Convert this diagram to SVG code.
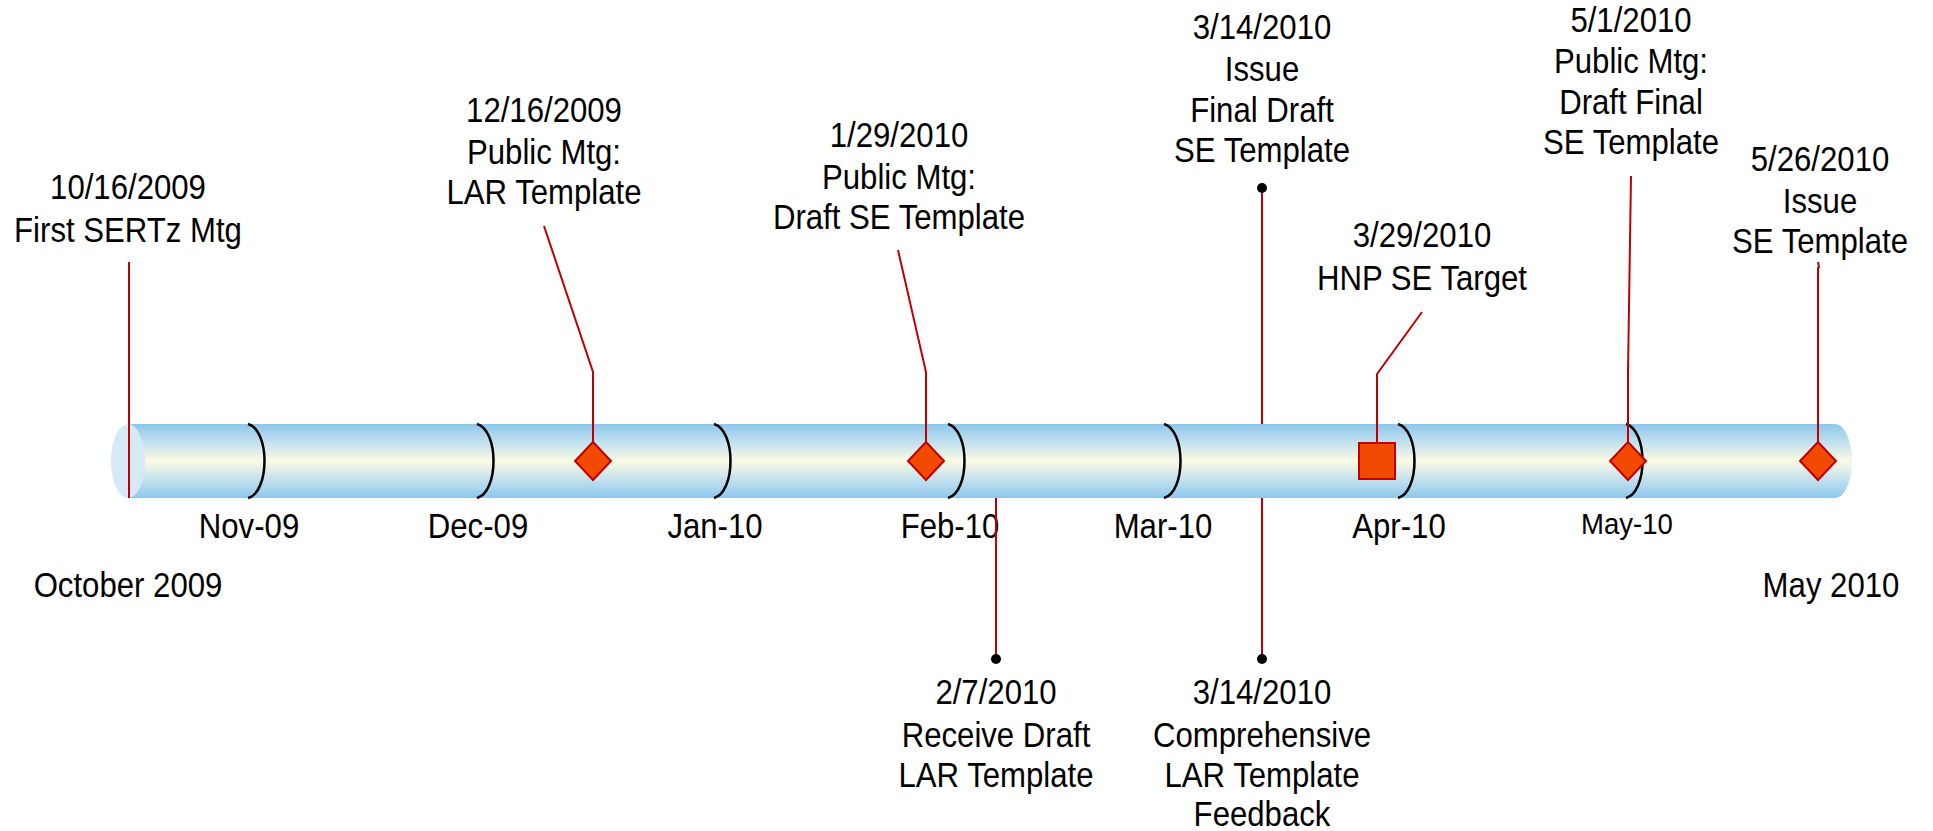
<svg xmlns="http://www.w3.org/2000/svg" width="1933" height="831" viewBox="0 0 1933 831">
<style>
.t{font-family:"Liberation Sans",Arial,sans-serif;font-size:35px;text-anchor:middle;fill:#000}
.ln{stroke:#C00000;stroke-width:2;fill:none}
.dia{fill:#F24A00;stroke:#C00000;stroke-width:2}
.br{stroke:#000;stroke-width:2.5;fill:none}
.dot{fill:#000}
</style>
<defs>
<linearGradient id="tg" x1="0" y1="0" x2="0" y2="1">
<stop offset="0" stop-color="#8DC7EB"/>
<stop offset="0.25" stop-color="#C3E1EE"/>
<stop offset="0.5" stop-color="#FBFAE4"/>
<stop offset="0.75" stop-color="#C3E1EE"/>
<stop offset="1" stop-color="#8DC7EB"/>
</linearGradient>
</defs>
<rect width="1933" height="831" fill="#fff"/>
<g id="timeline">
<path d="M128,424 H1835 A17,37 0 0 1 1835,498 H128 Z" fill="url(#tg)"/>
<ellipse cx="128" cy="461" rx="17" ry="37" fill="#D6E9F6"/>
<path class="br" d="M248,424 C270,430 270,492 248,498"/>
<path class="br" d="M477,424 C499,430 499,492 477,498"/>
<path class="br" d="M714,424 C736,430 736,492 714,498"/>
<path class="br" d="M948,424 C970,430 970,492 948,498"/>
<path class="br" d="M1164,424 C1186,430 1186,492 1164,498"/>
<path class="br" d="M1398,424 C1420,430 1420,492 1398,498"/>
<path class="br" d="M1626,424 C1648,430 1648,492 1626,498"/>
<text class="t" transform="translate(249,0) scale(0.89,1)" y="538">Nov-09</text>
<text class="t" transform="translate(478,0) scale(0.89,1)" y="538">Dec-09</text>
<text class="t" transform="translate(715,0) scale(0.89,1)" y="538">Jan-10</text>
<text class="t" transform="translate(950,0) scale(0.89,1)" y="538">Feb-10</text>
<text class="t" transform="translate(1163,0) scale(0.89,1)" y="538">Mar-10</text>
<text class="t" transform="translate(1399,0) scale(0.89,1)" y="538">Apr-10</text>
<text class="t" style="font-size:29px" transform="translate(1627,0) scale(0.95,1)" y="534">May-10</text>
<text class="t" transform="translate(128,0) scale(0.89,1)" y="597">October 2009</text>
<text class="t" transform="translate(1831,0) scale(0.89,1)" y="597">May 2010</text>
</g>
<g id="connectors">
<polyline class="ln" points="129,262 129,498"/>
<polyline class="ln" points="544,226 593,372 593,442"/>
<polyline class="ln" points="898,250 926,372 926,442"/>
<polyline class="ln" points="996,498 996,659"/>
<polyline class="ln" points="1262,188 1262,424"/>
<polyline class="ln" points="1262,498 1262,659"/>
<polyline class="ln" points="1422,312 1377,374 1377,443"/>
<polyline class="ln" points="1631,176 1628,372 1628,442"/>
<polyline class="ln" points="1818,262 1819,267 1818,268 1818,442"/>
</g>
<g id="n-oct16">
<text class="t" transform="translate(128,0) scale(0.89,1)"><tspan x="0" y="199">10/16/2009</tspan><tspan x="0" y="242">First SERTz Mtg</tspan></text>
</g>
<g id="n-dec16">
<text class="t" transform="translate(544,0) scale(0.89,1)"><tspan x="0" y="122">12/16/2009</tspan><tspan x="0" y="164">Public Mtg:</tspan><tspan x="0" y="204">LAR Template</tspan></text>
<path class="dia" d="M593,442 L611,461 L593,480 L575,461 Z"/>
</g>
<g id="n-jan29">
<text class="t" transform="translate(899,0) scale(0.89,1)"><tspan x="0" y="147">1/29/2010</tspan><tspan x="0" y="189">Public Mtg:</tspan><tspan x="0" y="229">Draft SE Template</tspan></text>
<path class="dia" d="M926,442 L944,461 L926,480 L908,461 Z"/>
</g>
<g id="n-feb7">
<circle class="dot" cx="996" cy="659" r="5"/>
<text class="t" transform="translate(996,0) scale(0.89,1)"><tspan x="0" y="704">2/7/2010</tspan><tspan x="0" y="747">Receive Draft</tspan><tspan x="0" y="787">LAR Template</tspan></text>
</g>
<g id="n-mar14-issue">
<text class="t" transform="translate(1262,0) scale(0.89,1)"><tspan x="0" y="39">3/14/2010</tspan><tspan x="0" y="81">Issue</tspan><tspan x="0" y="122">Final Draft</tspan><tspan x="0" y="162">SE Template</tspan></text>
<circle class="dot" cx="1262" cy="188" r="5"/>
</g>
<g id="n-mar14-feedback">
<circle class="dot" cx="1262" cy="659" r="5"/>
<text class="t" transform="translate(1262,0) scale(0.89,1)"><tspan x="0" y="704">3/14/2010</tspan><tspan x="0" y="747">Comprehensive</tspan><tspan x="0" y="787">LAR Template</tspan><tspan x="0" y="826">Feedback</tspan></text>
</g>
<g id="n-mar29">
<text class="t" transform="translate(1422,0) scale(0.89,1)"><tspan x="0" y="247">3/29/2010</tspan><tspan x="0" y="290">HNP SE Target</tspan></text>
<rect class="dia" x="1359" y="443" width="36" height="36"/>
</g>
<g id="n-may1">
<text class="t" transform="translate(1631,0) scale(0.89,1)"><tspan x="0" y="32">5/1/2010</tspan><tspan x="0" y="73">Public Mtg:</tspan><tspan x="0" y="114">Draft Final</tspan><tspan x="0" y="154">SE Template</tspan></text>
<path class="dia" d="M1628,442 L1646,461 L1628,480 L1610,461 Z"/>
</g>
<g id="n-may26">
<text class="t" transform="translate(1820,0) scale(0.89,1)"><tspan x="0" y="171">5/26/2010</tspan><tspan x="0" y="213">Issue</tspan><tspan x="0" y="253">SE Template</tspan></text>
<path class="dia" d="M1818,442 L1836,461 L1818,480 L1800,461 Z"/>
</g>
</svg>
